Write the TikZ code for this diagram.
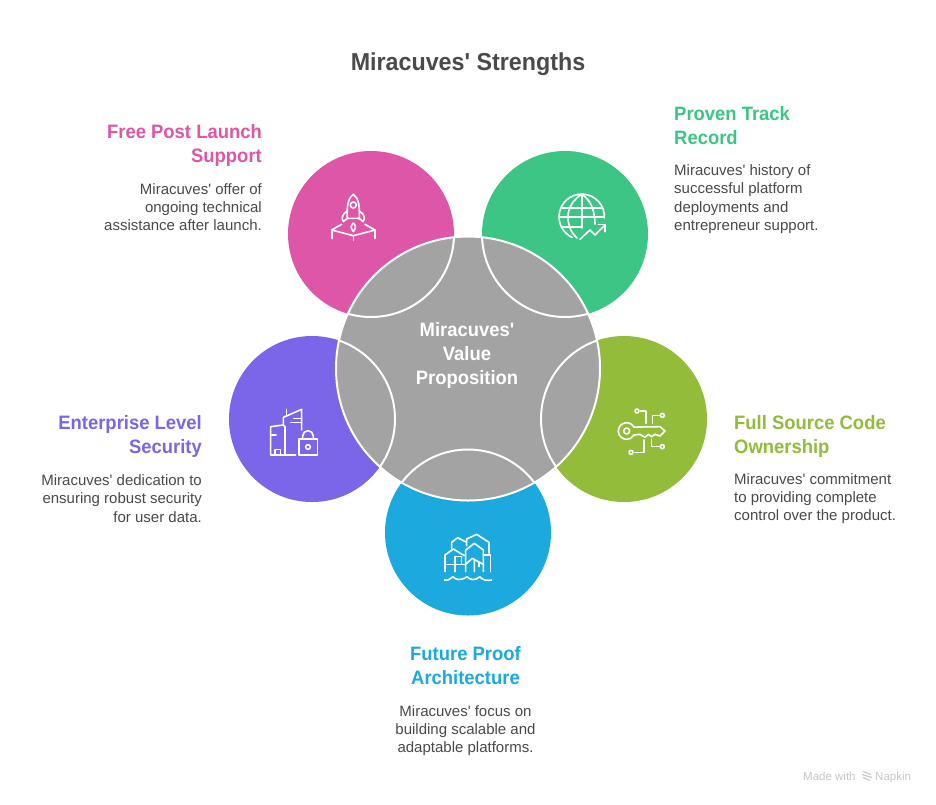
\documentclass[tikz,border=0pt]{standalone}
\usepackage{fontspec}
\newfontfamily\rb{Liberation Sans}[BoldFeatures={FakeStretch=0.95}]
\definecolor{hubgray}{HTML}{A3A3A3}
\definecolor{bodytext}{HTML}{4A4A4A}
\definecolor{cpink}{HTML}{DD56A8}
\definecolor{cgreen}{HTML}{3DC586}
\definecolor{cpurple}{HTML}{7B65E8}
\definecolor{colive}{HTML}{93BC3B}
\definecolor{cblue}{HTML}{1CA9DD}
\tikzset{
  x=1pt,y=-1pt,
  petal/.style={circle,inner sep=0pt,minimum size=166pt,draw=none},
  hub/.style={circle,inner sep=0pt,minimum size=264pt,fill=hubgray,draw=white,line width=2pt},
  rim/.style={draw=white,line width=2pt},
  ico/.style={draw=white,line width=1.6pt,line join=round,line cap=round},
  head/.style={font=\rb\fontsize{19.4}{24}\selectfont\bfseries,inner sep=0pt},
  body/.style={font=\rb\fontsize{15}{18.3}\selectfont,text=bodytext,inner sep=0pt},
  foot/.style={inner sep=0pt,anchor=base west,text=black!22,font=\rb\fontsize{11.5}{14}\selectfont},
}
\begin{document}
\begin{tikzpicture}
\useasboundingbox (0,0) rectangle (936,804);
\fill[white] (0,0) rectangle (936,804);
\node[petal,fill=cpink] (pink) at (371,234) {};
\node[petal,fill=cgreen] (green) at (565,234) {};
\node[petal,fill=cpurple] (purple) at (312,419) {};
\node[petal,fill=colive] (olive) at (624,419) {};
\node[petal,fill=cblue] (blue) at (468,532.5) {};
\node[hub] (center) at (468,368.5) {};
\begin{scope}
\clip (468,368.5) circle (132);
\draw[rim] (371,234) circle (83) (565,234) circle (83) (312,419) circle (83) (624,419) circle (83) (468,532.5) circle (83);
\end{scope}

% center label
\node[head,text=white,align=center] (hubtext) at (467,355) {Miracuves'\\Value\\Proposition};
% title
\node[inner sep=0pt,text=bodytext,font=\rb\fontsize{24.5}{28}\selectfont\bfseries] (title) at (468,64) {Miracuves' Strengths};

% pink
\node[head,text=cpink,align=right,anchor=east] (h1) at (262,145) {Free Post Launch\\Support};
\node[body,align=right,anchor=east] (b1) at (262,207) {Miracuves' offer of\\ongoing technical\\assistance after launch.};
% green
\node[head,text=cgreen,align=left,anchor=west] (h2) at (674,126) {Proven Track\\Record};
\node[body,align=left,anchor=west] (b2) at (674,199) {Miracuves' history of\\successful platform\\deployments and\\entrepreneur support.};
% purple
\node[head,text=cpurple,align=right,anchor=east] (h3) at (202,436) {Enterprise Level\\Security};
\node[body,align=right,anchor=east] (b3) at (202,498.5) {Miracuves' dedication to\\ensuring robust security\\for user data.};
% olive
\node[head,text=colive,align=left,anchor=west] (h4) at (734,436) {Full Source Code\\Ownership};
\node[body,align=left,anchor=west] (b4) at (734,498.5) {Miracuves' commitment\\to providing complete\\control over the product.};
% blue
\node[head,text=cblue,align=center] (h5) at (465.5,666) {Future Proof\\Architecture};
\node[body,align=center] (b5) at (465.5,730.5) {Miracuves' focus on\\building scalable and\\adaptable platforms.};

% footer
\node[foot] (made) at (803,780) {Made with};
\node[foot] (napkin) at (875,780) {Napkin};
\draw[black!22,line width=1.1pt] (863,771.5)--(871,774.5) (862,774.5)--(872,777.5) (863,777.5)--(870,780.5);

% rocket
\begin{scope}[ico]
\draw (353.3,194.3) .. controls (358,198) and (360,204) .. (359.3,218.3) -- (347.3,218.3) .. controls (346.6,204) and (348.6,198) .. (353.3,194.3);
\draw (353.3,205) circle (3);
\draw (347.3,211) .. controls (342,214) and (341,219) .. (343.5,221.5) .. controls (345,219.5) and (347,219) .. (348,218.3);
\draw (359.3,211) .. controls (364.6,214) and (365.6,219) .. (363,221.5) .. controls (361.5,219.5) and (359.5,219) .. (358.6,218.3);
\draw (353.3,223) .. controls (351,225) and (350,228) .. (353.3,231.5) .. controls (356.6,228) and (355.6,225) .. (353.3,223);
\draw (341.7,224.3) -- (331.7,230) -- (353.3,235.7) -- (375,230) -- (365,224.3);
\draw (331.7,230) -- (331.7,238.5) (375,230) -- (375,238.5) (353.3,235.7) -- (353.3,240);
\end{scope}

% globe with arrow
\begin{scope}[ico]
\draw (604.4,218) arc (3:-245:22.7);
\draw (581.7,194) .. controls (573,200) and (568,208) .. (568,217) .. controls (568,226) and (572,234) .. (577,238);
\draw (581.7,194) .. controls (590,200) and (594.5,208) .. (595,224);
\draw (581.7,194) -- (581.7,228);
\draw (562,207.7) -- (601.5,207.7);
\draw (559,217) -- (604,217);
\draw (562,226.7) -- (582,226.7);
\draw (580,239.3) -- (590,230) -- (595,235) -- (605,225);
\draw (598.3,224.5) -- (605,224.5) -- (605,231.7);
\end{scope}

% buildings with lock
\begin{scope}[shift={(230,330)},x=0.3333pt,y=-0.3333pt,ico]
\draw (197,375) -- (122,375) -- (122,290) -- (160,285) -- (165,290) -- (165,375);
\draw (135,375) -- (135,358) -- (152,358) -- (152,375);
\draw (125,315) -- (138,315);
\draw (160,285) -- (160,262) -- (215,238) -- (215,300);
\draw (170,238) -- (170,255);
\draw (192,265) -- (215,265) (182,278) -- (215,278);
\draw (207,327) rectangle (262,375);
\draw (218,327) -- (218,318) arc (180:360:16) -- (250,327);
\draw (234,351) circle (7);
\end{scope}

% key and circuit
\begin{scope}[shift={(520,330)},x=0.3333pt,y=-0.3333pt,ico]
\draw (342,291.3) arc (-28:-332:25) -- (360,313) -- (375,322) -- (385,313) -- (395,320) -- (405,313) -- (420,318) -- (435,303) -- (420,290) -- cycle;
\draw (320,303) circle (9);
\draw (351,243) circle (6) (427,256) circle (6) (427,350) circle (6) (333,367) circle (6);
\draw (362,243) -- (378,243) -- (378,280);
\draw (397,280) -- (397,256) -- (417,256);
\draw (395,328) -- (395,350) -- (417,350);
\draw (372,330) -- (372,367) -- (345,367);
\end{scope}

% city on water
\begin{scope}[shift={(435,525)},x=0.3333pt,y=-0.3333pt,ico]
\draw (30,140) -- (30,90) -- (55,72) -- (88,92);
\draw (30,118) -- (88,118) (60,95) -- (60,140) (60,95) -- (80,95) -- (80,118);
\draw (50,70) -- (50,52) -- (68,38) -- (95,52);
\draw (95,62) -- (95,42) -- (125,28) -- (162,52) -- (162,85);
\draw (92,140) -- (92,75) -- (118,55) -- (145,75) -- (145,140);
\draw (92,118) -- (112,100) -- (145,118) (118,105) -- (118,140) (132,110) -- (132,125);
\draw (145,90) -- (166,90) -- (166,140);
\draw (28,165) .. controls (40,168) and (48,160) .. (54,155) .. controls (62,165) and (78,168) .. (96,155) .. controls (104,165) and (122,168) .. (134,155) .. controls (142,165) and (155,168) .. (170,165);
\end{scope}
\end{tikzpicture}
\end{document}
